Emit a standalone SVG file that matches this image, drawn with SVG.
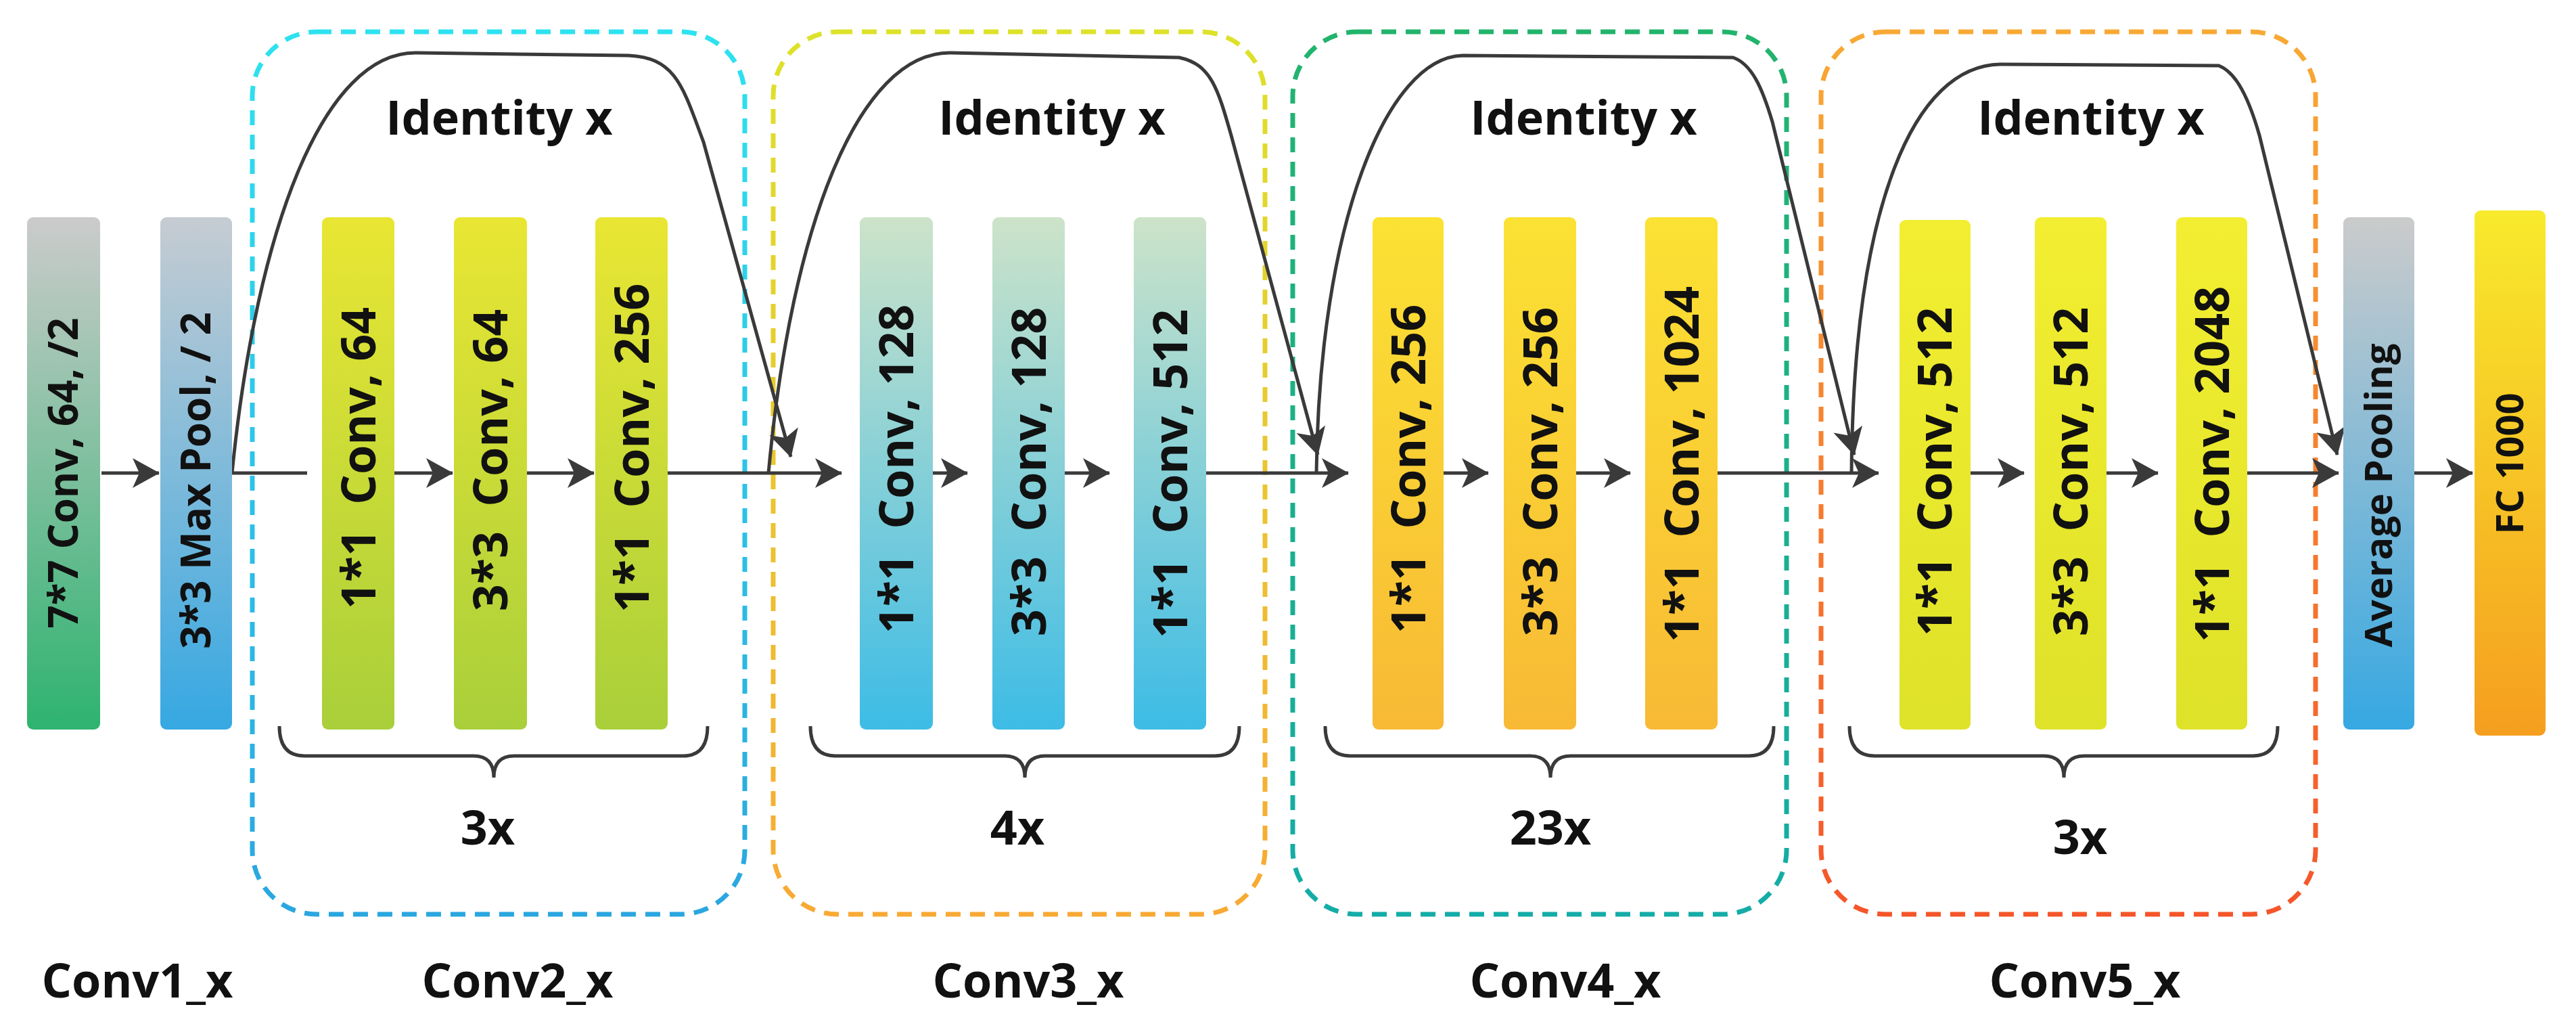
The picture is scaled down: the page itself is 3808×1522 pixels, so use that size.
<svg xmlns="http://www.w3.org/2000/svg" width="3808" height="1522" viewBox="0 0 3808 1522">
<defs>
<linearGradient id="gC1" x1="0" y1="0" x2="0" y2="1"><stop offset="0" stop-color="#cbcbcb"/><stop offset="1" stop-color="#2eb36f"/></linearGradient>
<linearGradient id="gMP" x1="0" y1="0" x2="0" y2="1"><stop offset="0" stop-color="#c6ccd2"/><stop offset="1" stop-color="#36a8e2"/></linearGradient>
<linearGradient id="gC2" x1="0" y1="0" x2="0" y2="1"><stop offset="0" stop-color="#e9e633"/><stop offset="1" stop-color="#a9cf3a"/></linearGradient>
<linearGradient id="gC3" x1="0" y1="0" x2="0" y2="1"><stop offset="0" stop-color="#cde3c9"/><stop offset="1" stop-color="#3dbce6"/></linearGradient>
<linearGradient id="gC4" x1="0" y1="0" x2="0" y2="1"><stop offset="0" stop-color="#fbe233"/><stop offset="1" stop-color="#f8b935"/></linearGradient>
<linearGradient id="gC5" x1="0" y1="0" x2="0" y2="1"><stop offset="0" stop-color="#f3ee31"/><stop offset="1" stop-color="#dee229"/></linearGradient>
<linearGradient id="gAP" x1="0" y1="0" x2="0" y2="1"><stop offset="0" stop-color="#cbcbcb"/><stop offset="1" stop-color="#36a8e2"/></linearGradient>
<linearGradient id="gFC" x1="0" y1="0" x2="0" y2="1"><stop offset="0" stop-color="#f8ea2c"/><stop offset="1" stop-color="#f59e1f"/></linearGradient>
<linearGradient id="sB2" x1="0" y1="0" x2="0" y2="1"><stop offset="0" stop-color="#2ee2f0"/><stop offset="1" stop-color="#2aa6e0"/></linearGradient>
<linearGradient id="sB3" x1="0" y1="0" x2="0" y2="1"><stop offset="0" stop-color="#dde22a"/><stop offset="1" stop-color="#f8a934"/></linearGradient>
<linearGradient id="sB4" x1="0" y1="0" x2="0" y2="1"><stop offset="0" stop-color="#22b46c"/><stop offset="1" stop-color="#14aca8"/></linearGradient>
<linearGradient id="sB5" x1="0" y1="0" x2="0" y2="1"><stop offset="0" stop-color="#f8a934"/><stop offset="1" stop-color="#f5552a"/></linearGradient>
<marker id="ah" viewBox="0 0 10 10" refX="9" refY="5" markerWidth="10" markerHeight="10" markerUnits="userSpaceOnUse" orient="auto" overflow="visible">
<path d="M-30,-17 L10,5 L-30,27 L-20,5 Z" fill="#3a3a3a"/>
</marker>
</defs>
<style>
.t{font-family:"Open Sans","DejaVu Sans",sans-serif;font-weight:bold;fill:#111;text-anchor:middle;white-space:pre}
.bt{font-size:70px}
.lbl{font-size:70px}
.grp{fill:none;stroke-width:7;stroke-dasharray:22 14}
.ln{fill:none;stroke:#3a3a3a;stroke-width:5}
.br{fill:none;stroke:#3a3a3a;stroke-width:5}
</style>

<g id="stage-boxes">
<rect id="box-conv2" class="grp" stroke="url(#sB2)" x="373" y="47" width="728" height="1304" rx="95"/>
<rect id="box-conv3" class="grp" stroke="url(#sB3)" x="1143" y="47" width="727" height="1304" rx="95"/>
<rect id="box-conv4" class="grp" stroke="url(#sB4)" x="1911" y="47" width="730" height="1304" rx="95"/>
<rect id="box-conv5" class="grp" stroke="url(#sB5)" x="2692" y="47" width="731" height="1304" rx="95"/>
</g>

<g id="connectors">
<line class="ln" x1="150" y1="699" x2="235" y2="699" marker-end="url(#ah)"/>
<line class="ln" x1="343" y1="699" x2="454" y2="699"/>
<line class="ln" x1="583" y1="699" x2="669" y2="699" marker-end="url(#ah)"/>
<line class="ln" x1="779" y1="699" x2="878" y2="699" marker-end="url(#ah)"/>
<line class="ln" x1="987" y1="699" x2="1244" y2="699" marker-end="url(#ah)"/>
<line class="ln" x1="1341" y1="699" x2="1430" y2="699" marker-end="url(#ah)"/>
<line class="ln" x1="1537" y1="699" x2="1640" y2="699" marker-end="url(#ah)"/>
<line class="ln" x1="1747" y1="699" x2="1993" y2="699" marker-end="url(#ah)"/>
<line class="ln" x1="2114" y1="699" x2="2200" y2="699" marker-end="url(#ah)"/>
<line class="ln" x1="2310" y1="699" x2="2410" y2="699" marker-end="url(#ah)"/>
<line class="ln" x1="2517" y1="699" x2="2777" y2="699" marker-end="url(#ah)"/>
<line class="ln" x1="2889" y1="699" x2="2992" y2="699" marker-end="url(#ah)"/>
<line class="ln" x1="3089" y1="699" x2="3190" y2="699" marker-end="url(#ah)"/>
<line class="ln" x1="3300" y1="699" x2="3457" y2="699" marker-end="url(#ah)"/>
<line class="ln" x1="3569" y1="699" x2="3655" y2="699" marker-end="url(#ah)"/>
<path class="ln" d="M343,699 C380,330 480,78 614,78 L929,82 C1000,85 1010,130 1040,210 L1169,675" marker-end="url(#ah)"/>
<path class="ln" d="M1136,699 C1170,330 1270,78 1404,78 L1743,85 C1790,95 1800,130 1820,200 L1948,672" marker-end="url(#ah)"/>
<path class="ln" d="M1946,699 C1950,330 2050,85 2162,82 L2562,85 C2590,95 2605,130 2620,180 L2741,672" marker-end="url(#ah)"/>
<path class="ln" d="M2737,699 C2740,300 2830,97 2957,95 L3280,97 C3300,105 3320,130 3340,200 L3455,672" marker-end="url(#ah)"/>
</g>

<g id="braces">
<path class="br" d="M413,1073 Q413,1117 450,1117 L700,1117 Q730,1117 730,1149 Q730,1117 760,1117 L1010,1117 Q1046,1117 1046,1073"/>
<path class="br" d="M1198,1073 Q1198,1117 1235,1117 L1485,1117 Q1515,1117 1515,1149 Q1515,1117 1545,1117 L1796,1117 Q1832,1117 1832,1073"/>
<path class="br" d="M1959,1073 Q1959,1117 1996,1117 L2262,1117 Q2292,1117 2292,1149 Q2292,1117 2322,1117 L2585,1117 Q2622,1117 2622,1073"/>
<path class="br" d="M2734,1073 Q2734,1117 2771,1117 L3021,1117 Q3051,1117 3051,1149 Q3051,1117 3081,1117 L3330,1117 Q3367,1117 3367,1073"/>
</g>

<g id="conv1"><rect x="40" y="321" width="108" height="757" rx="9" fill="url(#gC1)"/><text class="t" font-size="60" transform="translate(94,699) rotate(-90)" dy="21">7*7 Conv, 64, /2</text></g>
<g id="maxpool"><rect x="237" y="321" width="106" height="757" rx="9" fill="url(#gMP)"/><text class="t" font-size="60" transform="translate(290,710) rotate(-90)" dy="21">3*3 Max Pool, / 2</text></g>

<g id="c2a"><rect x="476" y="321" width="107" height="757" rx="9" fill="url(#gC2)"/><text class="t bt" transform="translate(530,677) rotate(-90)" dy="25">1*1  Conv, 64</text></g>
<g id="c2b"><rect x="671" y="321" width="108" height="757" rx="9" fill="url(#gC2)"/><text class="t bt" transform="translate(725,680) rotate(-90)" dy="25">3*3  Conv, 64</text></g>
<g id="c2c"><rect x="880" y="321" width="107" height="757" rx="9" fill="url(#gC2)"/><text class="t bt" transform="translate(934,662) rotate(-90)" dy="25">1*1  Conv, 256</text></g>

<g id="c3a"><rect x="1271" y="321" width="108" height="757" rx="9" fill="url(#gC3)"/><text class="t bt" transform="translate(1325,693) rotate(-90)" dy="25">1*1  Conv, 128</text></g>
<g id="c3b"><rect x="1467" y="321" width="107" height="757" rx="9" fill="url(#gC3)"/><text class="t bt" transform="translate(1521,697) rotate(-90)" dy="25">3*3  Conv, 128</text></g>
<g id="c3c"><rect x="1676" y="321" width="107" height="757" rx="9" fill="url(#gC3)"/><text class="t bt" transform="translate(1730,700) rotate(-90)" dy="25">1*1  Conv, 512</text></g>

<g id="c4a"><rect x="2029" y="321" width="105" height="757" rx="9" fill="url(#gC4)"/><text class="t bt" transform="translate(2082,693) rotate(-90)" dy="25">1*1  Conv, 256</text></g>
<g id="c4b"><rect x="2223" y="321" width="107" height="757" rx="9" fill="url(#gC4)"/><text class="t bt" transform="translate(2277,697) rotate(-90)" dy="25">3*3  Conv, 256</text></g>
<g id="c4c"><rect x="2432" y="321" width="107" height="757" rx="9" fill="url(#gC4)"/><text class="t bt" transform="translate(2486,686) rotate(-90)" dy="25">1*1  Conv, 1024</text></g>

<g id="c5a"><rect x="2808" y="325" width="105" height="753" rx="9" fill="url(#gC5)"/><text class="t bt" transform="translate(2860,697) rotate(-90)" dy="25">1*1  Conv, 512</text></g>
<g id="c5b"><rect x="3008" y="321" width="106" height="757" rx="9" fill="url(#gC5)"/><text class="t bt" transform="translate(3061,697) rotate(-90)" dy="25">3*3  Conv, 512</text></g>
<g id="c5c"><rect x="3217" y="321" width="105" height="757" rx="9" fill="url(#gC5)"/><text class="t bt" transform="translate(3270,686) rotate(-90)" dy="25">1*1  Conv, 2048</text></g>

<g id="avgpool"><rect x="3464" y="321" width="105" height="757" rx="9" fill="url(#gAP)"/><text class="t" font-size="56" transform="translate(3516,732) rotate(-90)" dy="20">Average Pooling</text></g>
<g id="fc"><rect x="3658" y="311" width="105" height="776" rx="9" fill="url(#gFC)"/><text class="t" font-size="56" transform="translate(3710,685) rotate(-90)" dy="20">FC 1000</text></g>

<g id="labels">
<text class="t lbl" x="738" y="199">Identity x</text>
<text class="t lbl" x="1555" y="199">Identity x</text>
<text class="t lbl" x="2341" y="199">Identity x</text>
<text class="t lbl" x="3091" y="199">Identity x</text>
<text class="t lbl" x="721" y="1248">3x</text>
<text class="t lbl" x="1504" y="1248">4x</text>
<text class="t lbl" x="2292" y="1248">23x</text>
<text class="t lbl" x="3075" y="1262">3x</text>
<text class="t lbl" font-size="76" x="203" y="1474">Conv1_x</text>
<text class="t lbl" font-size="76" x="765" y="1474">Conv2_x</text>
<text class="t lbl" font-size="76" x="1520" y="1474">Conv3_x</text>
<text class="t lbl" font-size="76" x="2314" y="1474">Conv4_x</text>
<text class="t lbl" font-size="76" x="3082" y="1474">Conv5_x</text>
</g>
</svg>
